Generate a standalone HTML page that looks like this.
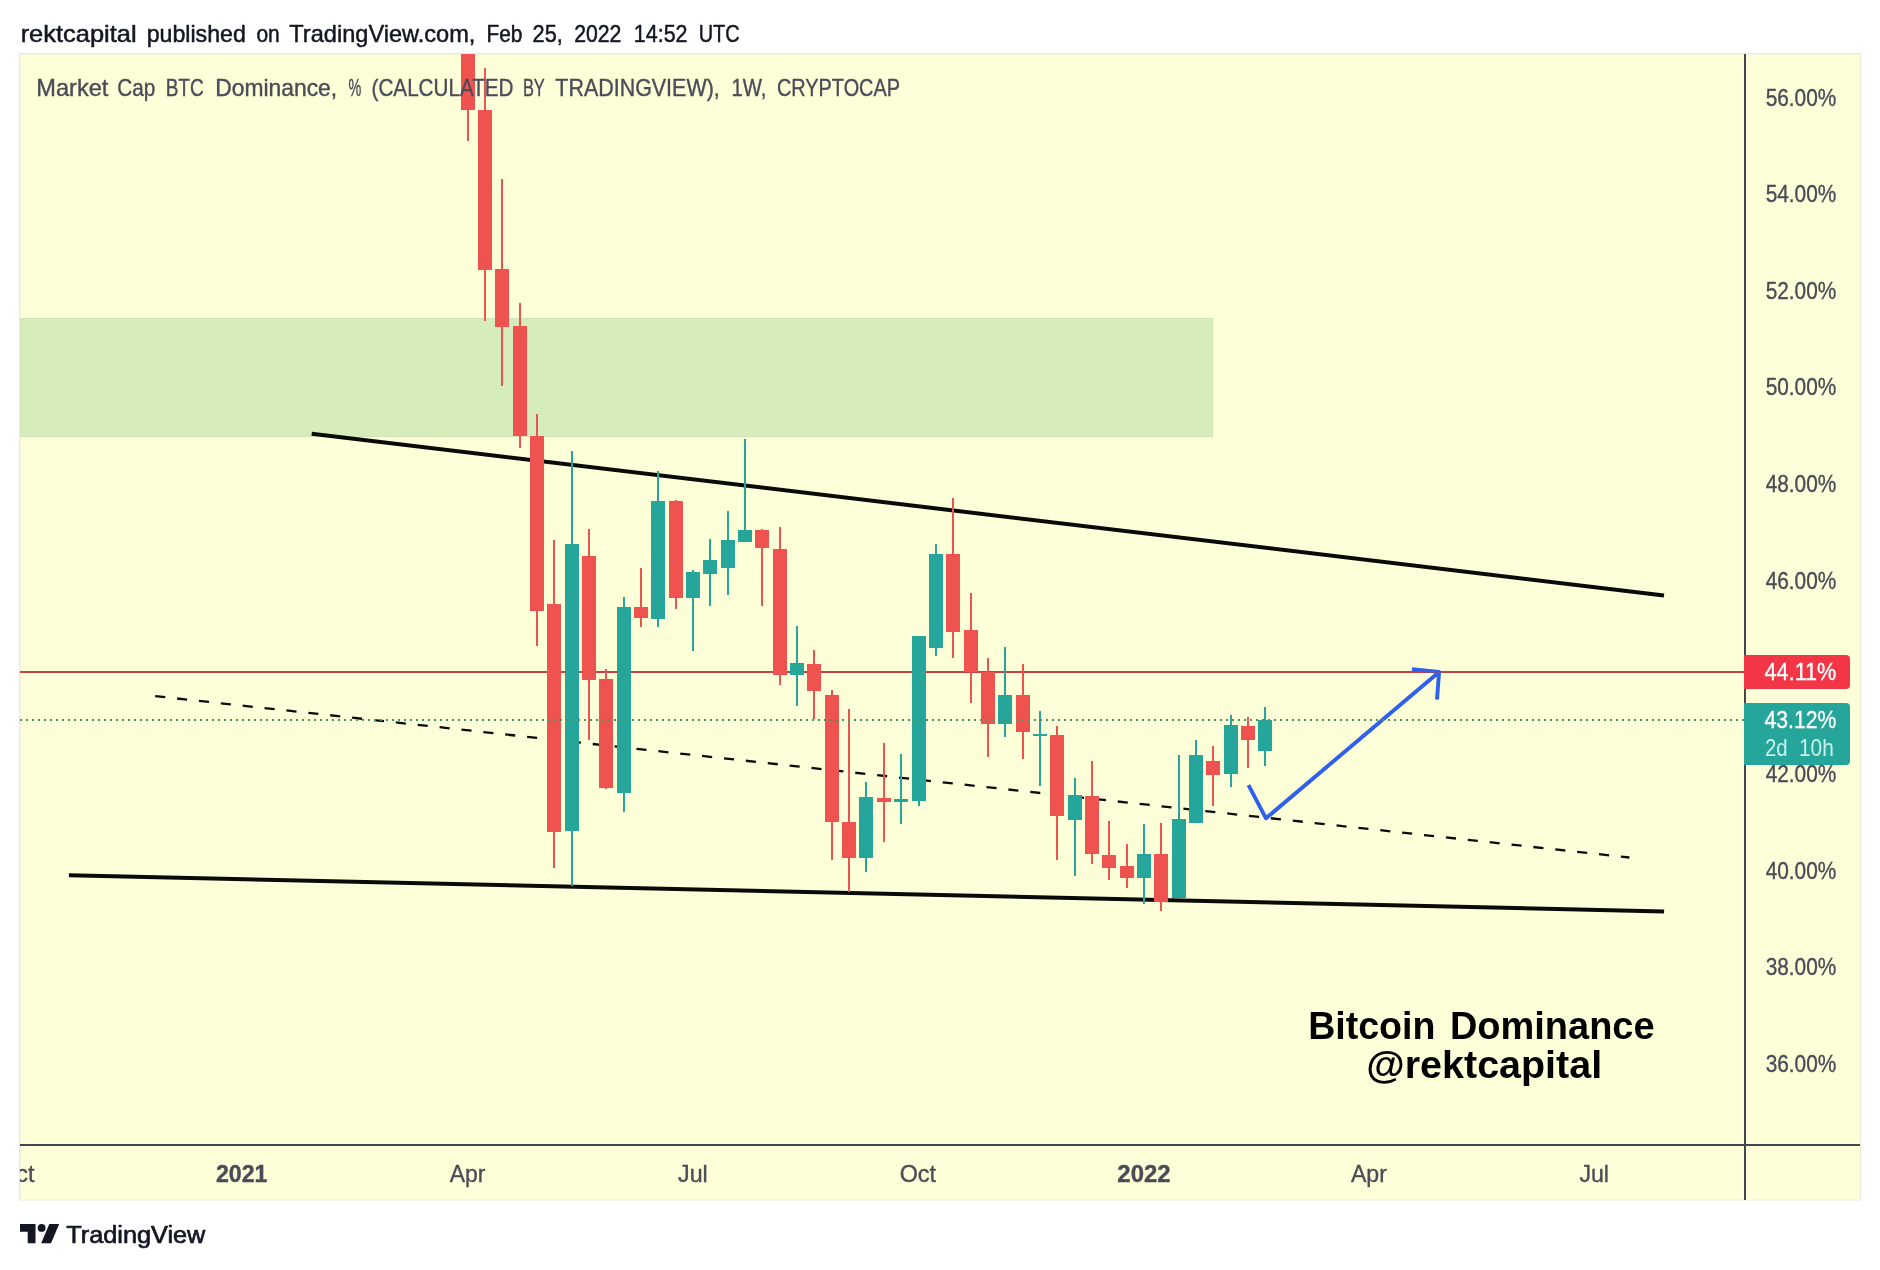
<!DOCTYPE html>
<html lang="en">
<head>
<meta charset="utf-8">
<title>Bitcoin Dominance - TradingView</title>
<style>
html,body{margin:0;padding:0;background:#fff;}
body{width:1880px;height:1270px;overflow:hidden;position:relative;font-family:"Liberation Sans",sans-serif;}
svg{position:absolute;left:0;top:0;display:block;will-change:transform;}
text{font-family:"Liberation Sans",sans-serif;}
</style>
</head>
<body>
<svg width="1880" height="1270" viewBox="0 0 1880 1270">

<rect x="19" y="53" width="1842" height="1147.5" fill="#ebebdc"/>
<rect x="20.6" y="54.6" width="1839.4" height="1145" fill="#fdffd8"/>
<rect x="20" y="318" width="1193" height="119" fill="#d6ecba" shape-rendering="crispEdges"/><path d="M20.6 318.5H1212.5V436.5H20.6" fill="none" stroke="#cfe6b4" stroke-width="1"/>
<g id="drawings" fill="none">
<line x1="311.7" y1="433.7" x2="1664" y2="595.5" stroke="#0a0a08" stroke-width="4"/>
<line x1="68.9" y1="875.3" x2="1664.1" y2="911.4" stroke="#0a0a08" stroke-width="4"/>
<line x1="155.2" y1="696.09" x2="1629.4" y2="857.51" stroke="#0a0a08" stroke-width="2.3" stroke-dasharray="10.1 11.907"/>
<rect x="20" y="671" width="1724" height="2" fill="#c8403f" shape-rendering="crispEdges"/>
<polyline points="1248.5,785.1 1266,818.3 1439.1,671.9" stroke="#2f5fee" stroke-width="3.9" stroke-linejoin="round"/>
<polyline points="1411.9,669.2 1439.1,671.9 1437,699.6" stroke="#2f5fee" stroke-width="3.9" stroke-linejoin="round"/>
<rect x="1410" y="671" width="30" height="2" fill="#c8403f" opacity="0.45" shape-rendering="crispEdges"/>
</g>
<text x="1308.20" y="1038.50" font-size="38" font-weight="bold" fill="#000" textLength="127.25" lengthAdjust="spacingAndGlyphs">Bitcoin</text>
<text x="1449.90" y="1038.50" font-size="38" font-weight="bold" fill="#000" textLength="204.71" lengthAdjust="spacingAndGlyphs">Dominance</text>
<text x="1366.30" y="1078.30" font-size="38" font-weight="bold" fill="#000" textLength="235.81" lengthAdjust="spacingAndGlyphs">@rektcapital</text>
<g id="candles" shape-rendering="crispEdges">
<rect x="467" y="54" width="2" height="87" fill="#ef5350"/>
<rect x="461" y="54" width="14" height="56" fill="#ef5350"/>
<rect x="484" y="68" width="2" height="253" fill="#ef5350"/>
<rect x="478" y="110" width="14" height="160" fill="#ef5350"/>
<rect x="501" y="179" width="2" height="207" fill="#ef5350"/>
<rect x="495" y="269" width="14" height="58" fill="#ef5350"/>
<rect x="519" y="303" width="2" height="145" fill="#ef5350"/>
<rect x="513" y="326" width="14" height="110" fill="#ef5350"/>
<rect x="536" y="414" width="2" height="232" fill="#ef5350"/>
<rect x="530" y="436" width="14" height="175" fill="#ef5350"/>
<rect x="553" y="540" width="2" height="328" fill="#ef5350"/>
<rect x="547" y="604" width="14" height="228" fill="#ef5350"/>
<rect x="571" y="451" width="2" height="435" fill="#26a69a"/>
<rect x="565" y="544" width="14" height="287" fill="#26a69a"/>
<rect x="588" y="529" width="2" height="211" fill="#ef5350"/>
<rect x="582" y="556" width="14" height="124" fill="#ef5350"/>
<rect x="605" y="669" width="2" height="120" fill="#ef5350"/>
<rect x="599" y="679" width="14" height="109" fill="#ef5350"/>
<rect x="623" y="597" width="2" height="215" fill="#26a69a"/>
<rect x="617" y="607" width="14" height="186" fill="#26a69a"/>
<rect x="640" y="568" width="2" height="59" fill="#ef5350"/>
<rect x="634" y="607" width="14" height="11" fill="#ef5350"/>
<rect x="657" y="471" width="2" height="156" fill="#26a69a"/>
<rect x="651" y="501" width="14" height="118" fill="#26a69a"/>
<rect x="675" y="500" width="2" height="109" fill="#ef5350"/>
<rect x="669" y="501" width="14" height="97" fill="#ef5350"/>
<rect x="692" y="570" width="2" height="81" fill="#26a69a"/>
<rect x="686" y="572" width="14" height="26" fill="#26a69a"/>
<rect x="709" y="539" width="2" height="67" fill="#26a69a"/>
<rect x="703" y="560" width="14" height="14" fill="#26a69a"/>
<rect x="727" y="511" width="2" height="84" fill="#26a69a"/>
<rect x="721" y="540" width="14" height="28" fill="#26a69a"/>
<rect x="744" y="439" width="2" height="103" fill="#26a69a"/>
<rect x="738" y="530" width="14" height="12" fill="#26a69a"/>
<rect x="761" y="529" width="2" height="77" fill="#ef5350"/>
<rect x="755" y="530" width="14" height="18" fill="#ef5350"/>
<rect x="779" y="527" width="2" height="158" fill="#ef5350"/>
<rect x="773" y="549" width="14" height="126" fill="#ef5350"/>
<rect x="796" y="626" width="2" height="80" fill="#26a69a"/>
<rect x="790" y="663" width="14" height="12" fill="#26a69a"/>
<rect x="813" y="650" width="2" height="69" fill="#ef5350"/>
<rect x="807" y="664" width="14" height="27" fill="#ef5350"/>
<rect x="831" y="690" width="2" height="170" fill="#ef5350"/>
<rect x="825" y="695" width="14" height="127" fill="#ef5350"/>
<rect x="848" y="709" width="2" height="183" fill="#ef5350"/>
<rect x="842" y="822" width="14" height="36" fill="#ef5350"/>
<rect x="865" y="782" width="2" height="90" fill="#26a69a"/>
<rect x="859" y="797" width="14" height="61" fill="#26a69a"/>
<rect x="883" y="743" width="2" height="99" fill="#ef5350"/>
<rect x="877" y="798" width="14" height="4" fill="#ef5350"/>
<rect x="900" y="754" width="2" height="70" fill="#26a69a"/>
<rect x="894" y="799" width="14" height="3" fill="#26a69a"/>
<rect x="918" y="636" width="2" height="170" fill="#26a69a"/>
<rect x="912" y="636" width="14" height="165" fill="#26a69a"/>
<rect x="935" y="544" width="2" height="112" fill="#26a69a"/>
<rect x="929" y="554" width="14" height="94" fill="#26a69a"/>
<rect x="952" y="498" width="2" height="160" fill="#ef5350"/>
<rect x="946" y="554" width="14" height="78" fill="#ef5350"/>
<rect x="970" y="593" width="2" height="110" fill="#ef5350"/>
<rect x="964" y="630" width="14" height="42" fill="#ef5350"/>
<rect x="987" y="658" width="2" height="99" fill="#ef5350"/>
<rect x="981" y="672" width="14" height="52" fill="#ef5350"/>
<rect x="1004" y="647" width="2" height="90" fill="#26a69a"/>
<rect x="998" y="695" width="14" height="29" fill="#26a69a"/>
<rect x="1022" y="664" width="2" height="95" fill="#ef5350"/>
<rect x="1016" y="695" width="14" height="37" fill="#ef5350"/>
<rect x="1039" y="711" width="2" height="75" fill="#26a69a"/>
<rect x="1033" y="734" width="14" height="2" fill="#26a69a"/>
<rect x="1056" y="726" width="2" height="134" fill="#ef5350"/>
<rect x="1050" y="735" width="14" height="81" fill="#ef5350"/>
<rect x="1074" y="778" width="2" height="98" fill="#26a69a"/>
<rect x="1068" y="795" width="14" height="25" fill="#26a69a"/>
<rect x="1091" y="761" width="2" height="103" fill="#ef5350"/>
<rect x="1085" y="796" width="14" height="58" fill="#ef5350"/>
<rect x="1108" y="821" width="2" height="59" fill="#ef5350"/>
<rect x="1102" y="855" width="14" height="13" fill="#ef5350"/>
<rect x="1126" y="844" width="2" height="44" fill="#ef5350"/>
<rect x="1120" y="866" width="14" height="12" fill="#ef5350"/>
<rect x="1143" y="824" width="2" height="80" fill="#26a69a"/>
<rect x="1137" y="854" width="14" height="24" fill="#26a69a"/>
<rect x="1160" y="823" width="2" height="88" fill="#ef5350"/>
<rect x="1154" y="854" width="14" height="48" fill="#ef5350"/>
<rect x="1178" y="755" width="2" height="143" fill="#26a69a"/>
<rect x="1172" y="819" width="14" height="79" fill="#26a69a"/>
<rect x="1195" y="740" width="2" height="83" fill="#26a69a"/>
<rect x="1189" y="755" width="14" height="68" fill="#26a69a"/>
<rect x="1212" y="746" width="2" height="60" fill="#ef5350"/>
<rect x="1206" y="761" width="14" height="14" fill="#ef5350"/>
<rect x="1230" y="715" width="2" height="72" fill="#26a69a"/>
<rect x="1224" y="725" width="14" height="49" fill="#26a69a"/>
<rect x="1247" y="717" width="2" height="51" fill="#ef5350"/>
<rect x="1241" y="726" width="14" height="14" fill="#ef5350"/>
<rect x="1264" y="707" width="2" height="59" fill="#26a69a"/>
<rect x="1258" y="720" width="14" height="31" fill="#26a69a"/>
</g>
<line x1="20" y1="720" x2="1744" y2="720" stroke="#489567" stroke-width="2" stroke-dasharray="2 4" shape-rendering="crispEdges"/>
<rect x="1744" y="54" width="2" height="1146" fill="#434651" shape-rendering="crispEdges"/>
<rect x="20" y="1144" width="1840" height="2" fill="#434651" shape-rendering="crispEdges"/>
<text x="1765.67" y="105.60" font-size="23.4" fill="#4a4c57" textLength="70.68" lengthAdjust="spacingAndGlyphs" stroke="#4a4c57" stroke-width="0.35" stroke-linejoin="round">56.00%</text>
<text x="1765.67" y="202.23" font-size="23.4" fill="#4a4c57" textLength="70.68" lengthAdjust="spacingAndGlyphs" stroke="#4a4c57" stroke-width="0.35" stroke-linejoin="round">54.00%</text>
<text x="1765.67" y="298.86" font-size="23.4" fill="#4a4c57" textLength="70.68" lengthAdjust="spacingAndGlyphs" stroke="#4a4c57" stroke-width="0.35" stroke-linejoin="round">52.00%</text>
<text x="1765.67" y="395.49" font-size="23.4" fill="#4a4c57" textLength="70.68" lengthAdjust="spacingAndGlyphs" stroke="#4a4c57" stroke-width="0.35" stroke-linejoin="round">50.00%</text>
<text x="1765.67" y="492.12" font-size="23.4" fill="#4a4c57" textLength="70.68" lengthAdjust="spacingAndGlyphs" stroke="#4a4c57" stroke-width="0.35" stroke-linejoin="round">48.00%</text>
<text x="1765.67" y="588.75" font-size="23.4" fill="#4a4c57" textLength="70.68" lengthAdjust="spacingAndGlyphs" stroke="#4a4c57" stroke-width="0.35" stroke-linejoin="round">46.00%</text>
<text x="1765.67" y="685.38" font-size="23.4" fill="#4a4c57" textLength="70.68" lengthAdjust="spacingAndGlyphs" stroke="#4a4c57" stroke-width="0.35" stroke-linejoin="round">44.00%</text>
<text x="1765.67" y="782.01" font-size="23.4" fill="#4a4c57" textLength="70.68" lengthAdjust="spacingAndGlyphs" stroke="#4a4c57" stroke-width="0.35" stroke-linejoin="round">42.00%</text>
<text x="1765.67" y="878.64" font-size="23.4" fill="#4a4c57" textLength="70.68" lengthAdjust="spacingAndGlyphs" stroke="#4a4c57" stroke-width="0.35" stroke-linejoin="round">40.00%</text>
<text x="1765.67" y="975.27" font-size="23.4" fill="#4a4c57" textLength="70.68" lengthAdjust="spacingAndGlyphs" stroke="#4a4c57" stroke-width="0.35" stroke-linejoin="round">38.00%</text>
<text x="1765.67" y="1071.90" font-size="23.4" fill="#4a4c57" textLength="70.68" lengthAdjust="spacingAndGlyphs" stroke="#4a4c57" stroke-width="0.35" stroke-linejoin="round">36.00%</text>
<path d="M1744 655H1846a4 4 0 0 1 4 4V685a4 4 0 0 1 -4 4H1744Z" fill="#f23645"/>
<text x="1764.58" y="679.80" font-size="23.4" fill="#fff" textLength="71.80" lengthAdjust="spacingAndGlyphs" stroke="#fff" stroke-width="0.35" stroke-linejoin="round">44.11%</text>
<path d="M1744 703H1846a4 4 0 0 1 4 4V761a4 4 0 0 1 -4 4H1744Z" fill="#26a69a"/>
<text x="1764.58" y="727.80" font-size="23.4" fill="#fff" textLength="71.78" lengthAdjust="spacingAndGlyphs" stroke="#fff" stroke-width="0.35" stroke-linejoin="round">43.12%</text>
<text x="1764.90" y="755.90" font-size="23.4" fill="#c9f0eb" textLength="22.65" lengthAdjust="spacingAndGlyphs">2d</text>
<text x="1799.00" y="755.90" font-size="23.4" fill="#c9f0eb" textLength="34.77" lengthAdjust="spacingAndGlyphs">10h</text>
<text x="215.98" y="1181.70" font-size="23.4" font-weight="bold" fill="#4a4c57" textLength="51.54" lengthAdjust="spacingAndGlyphs" stroke="#4a4c57" stroke-width="0.35" stroke-linejoin="round">2021</text>
<text x="449.68" y="1181.70" font-size="23.4" fill="#4a4c57" textLength="35.68" lengthAdjust="spacingAndGlyphs" stroke="#4a4c57" stroke-width="0.35" stroke-linejoin="round">Apr</text>
<text x="678.07" y="1181.70" font-size="23.4" fill="#4a4c57" textLength="29.71" lengthAdjust="spacingAndGlyphs" stroke="#4a4c57" stroke-width="0.35" stroke-linejoin="round">Jul</text>
<text x="899.67" y="1181.70" font-size="23.4" fill="#4a4c57" textLength="36.36" lengthAdjust="spacingAndGlyphs" stroke="#4a4c57" stroke-width="0.35" stroke-linejoin="round">Oct</text>
<text x="1117.38" y="1181.70" font-size="23.4" font-weight="bold" fill="#4a4c57" textLength="53.24" lengthAdjust="spacingAndGlyphs" stroke="#4a4c57" stroke-width="0.35" stroke-linejoin="round">2022</text>
<text x="1350.88" y="1181.70" font-size="23.4" fill="#4a4c57" textLength="35.98" lengthAdjust="spacingAndGlyphs" stroke="#4a4c57" stroke-width="0.35" stroke-linejoin="round">Apr</text>
<text x="1579.38" y="1181.70" font-size="23.4" fill="#4a4c57" textLength="29.61" lengthAdjust="spacingAndGlyphs" stroke="#4a4c57" stroke-width="0.35" stroke-linejoin="round">Jul</text>
<svg x="20" y="1150" width="60" height="45" viewBox="20 1150 60 45" overflow="hidden"><text x="-1.82" y="1181.70" font-size="23.4" fill="#4a4c57" textLength="36.36" lengthAdjust="spacingAndGlyphs" stroke="#4a4c57" stroke-width="0.35" stroke-linejoin="round">Oct</text></svg>
<text x="36.30" y="95.70" font-size="24" fill="#4a4c57" textLength="72.13" lengthAdjust="spacingAndGlyphs" stroke="#4a4c57" stroke-width="0.4" stroke-linejoin="round">Market</text>
<text x="117.20" y="95.70" font-size="24" fill="#4a4c57" textLength="37.99" lengthAdjust="spacingAndGlyphs" stroke="#4a4c57" stroke-width="0.4" stroke-linejoin="round">Cap</text>
<text x="165.70" y="95.70" font-size="24" fill="#4a4c57" textLength="38.00" lengthAdjust="spacingAndGlyphs" stroke="#4a4c57" stroke-width="0.4" stroke-linejoin="round">BTC</text>
<text x="215.20" y="95.70" font-size="24" fill="#4a4c57" textLength="121.92" lengthAdjust="spacingAndGlyphs" stroke="#4a4c57" stroke-width="0.4" stroke-linejoin="round">Dominance,</text>
<text x="348.60" y="95.70" font-size="24" fill="#4a4c57" textLength="12.79" lengthAdjust="spacingAndGlyphs" stroke="#4a4c57" stroke-width="0.4" stroke-linejoin="round">%</text>
<text x="371.60" y="95.70" font-size="24" fill="#4a4c57" textLength="141.84" lengthAdjust="spacingAndGlyphs" stroke="#4a4c57" stroke-width="0.4" stroke-linejoin="round">(CALCULATED</text>
<text x="522.90" y="95.70" font-size="24" fill="#4a4c57" textLength="21.88" lengthAdjust="spacingAndGlyphs" stroke="#4a4c57" stroke-width="0.4" stroke-linejoin="round">BY</text>
<text x="555.30" y="95.70" font-size="24" fill="#4a4c57" textLength="164.44" lengthAdjust="spacingAndGlyphs" stroke="#4a4c57" stroke-width="0.4" stroke-linejoin="round">TRADINGVIEW),</text>
<text x="731.40" y="95.70" font-size="24" fill="#4a4c57" textLength="35.05" lengthAdjust="spacingAndGlyphs" stroke="#4a4c57" stroke-width="0.4" stroke-linejoin="round">1W,</text>
<text x="777.00" y="95.70" font-size="24" fill="#4a4c57" textLength="122.95" lengthAdjust="spacingAndGlyphs" stroke="#4a4c57" stroke-width="0.4" stroke-linejoin="round">CRYPTOCAP</text>
<text x="20.65" y="41.80" font-size="24" fill="#131722" textLength="115.94" lengthAdjust="spacingAndGlyphs" stroke="#131722" stroke-width="0.5" stroke-linejoin="round">rektcapital</text>
<text x="146.65" y="41.80" font-size="24" fill="#131722" textLength="99.23" lengthAdjust="spacingAndGlyphs" stroke="#131722" stroke-width="0.5" stroke-linejoin="round">published</text>
<text x="256.45" y="41.80" font-size="24" fill="#131722" textLength="23.25" lengthAdjust="spacingAndGlyphs" stroke="#131722" stroke-width="0.5" stroke-linejoin="round">on</text>
<text x="289.35" y="41.80" font-size="24" fill="#131722" textLength="186.05" lengthAdjust="spacingAndGlyphs" stroke="#131722" stroke-width="0.5" stroke-linejoin="round">TradingView.com,</text>
<text x="486.45" y="41.80" font-size="24" fill="#131722" textLength="35.86" lengthAdjust="spacingAndGlyphs" stroke="#131722" stroke-width="0.5" stroke-linejoin="round">Feb</text>
<text x="532.55" y="41.80" font-size="24" fill="#131722" textLength="30.20" lengthAdjust="spacingAndGlyphs" stroke="#131722" stroke-width="0.5" stroke-linejoin="round">25,</text>
<text x="574.15" y="41.80" font-size="24" fill="#131722" textLength="47.29" lengthAdjust="spacingAndGlyphs" stroke="#131722" stroke-width="0.5" stroke-linejoin="round">2022</text>
<text x="633.85" y="41.80" font-size="24" fill="#131722" textLength="53.65" lengthAdjust="spacingAndGlyphs" stroke="#131722" stroke-width="0.5" stroke-linejoin="round">14:52</text>
<text x="698.75" y="41.80" font-size="24" fill="#131722" textLength="40.90" lengthAdjust="spacingAndGlyphs" stroke="#131722" stroke-width="0.5" stroke-linejoin="round">UTC</text>
<g fill="#131722">
<path d="M20 1224H35.5V1243.3H27.7V1231.7H20Z"/>
<circle cx="41.6" cy="1227.9" r="3.9"/>
<path d="M49.3 1224H59.2L51 1243.3H41.2Z"/>
</g>
<text x="66.25" y="1243.20" font-size="24.2" fill="#131722" textLength="139.05" lengthAdjust="spacingAndGlyphs" stroke="#131722" stroke-width="0.7" stroke-linejoin="round">TradingView</text>
</svg>
</body>
</html>
